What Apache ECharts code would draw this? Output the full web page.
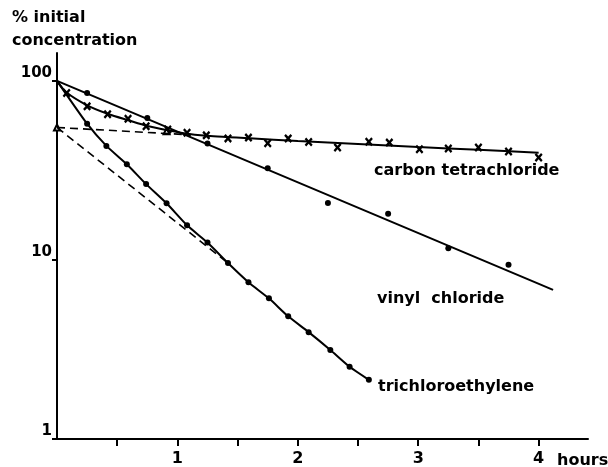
<!DOCTYPE html>
<html>
<head>
<meta charset="utf-8">
<script src="https://cdn.jsdelivr.net/npm/echarts@6/dist/echarts.min.js"></script>
<style>
  html, body { margin: 0; padding: 0; background: #fff; }
  #chart { width: 608px; height: 467px; }
</style>
</head>
<body>
<div id="chart"></div>
<script>
// hours / % initial concentration
const vinylHours = [0.25, 0.75, 1.25, 1.75, 2.25, 2.75, 3.25, 3.75];
const vinylConc = [85.5, 62, 44.6, 32.5, 20.8, 18.1, 11.6, 9.4];
const vinylFit = [[0, 100], [4.12, 6.8]];

const ctcHours = [0.08, 0.25, 0.42, 0.59, 0.74, 0.92, 1.08, 1.24, 1.42, 1.59, 1.75, 1.92,
  2.09, 2.33, 2.59, 2.76, 3.01, 3.25, 3.5, 3.75, 4.0];
const ctcConc = [85.5, 72, 65, 61.4, 55.8, 53.5, 51.3, 49.6, 47.7, 48.2, 44.8, 47.7,
  45.5, 42.4, 45.7, 45.2, 41.5, 41.9, 42.4, 40.3, 37.3];
const ctcFit = [[0, 100], [0.08, 86], [0.25, 73], [0.42, 65.5], [0.6, 60], [0.75, 56],
  [0.92, 53], [1.1, 50.5], [1.3, 49], [1.6, 47.8], [2.0, 46.1], [2.5, 44.4],
  [3.0, 42.7], [3.5, 41.2], [4.0, 39.6]];
const ctcExtrap = [[0, 54.9], [1.05, 50.2]];

const tceHours = [0.25, 0.41, 0.58, 0.74, 0.91, 1.08, 1.25, 1.42, 1.59, 1.76, 1.92, 2.09,
  2.27, 2.43, 2.59];
const tceConc = [57.6, 43.3, 34.2, 26.5, 20.7, 15.6, 12.5, 9.6, 7.5, 6.1, 4.84, 3.95,
  3.14, 2.53, 2.14];
const tceExtrap = [[0, 54.9], [1.42, 9.6]];

const triangles = [[0, 54.9], [0.91, 52.3]];

const xTicks = [0.5, 1, 1.5, 2, 2.5, 3, 3.5, 4];
const xLabels = [1, 2, 3, 4];
const yLabels = [1, 10, 100];

const font = 'DejaVu Sans';
const pairs = (xs, ys) => xs.map((x, i) => [x, ys[i]]);
const xMark = 'path://M0,2L2,0L5,3L8,0L10,2L7,5L10,8L8,10L5,7L2,10L0,8L3,5Z';

const chart = echarts.init(document.getElementById('chart'), null, { renderer: 'canvas' });

const solid = { color: '#000', width: 2 };
const dashed = { color: '#000', width: 1.6, type: [8, 5] };
const textFont = 'bold 16px ' + font;

chart.setOption({
  backgroundColor: '#fff',
  animation: false,
  grid: { left: 57, right: 20, top: 53, bottom: 24 },
  xAxis: {
    type: 'value',
    min: 0,
    max: 4.41,
    axisLine: { lineStyle: { color: '#000', width: 2 } },
    axisTick: { customValues: xTicks, length: 7, lineStyle: { color: '#000', width: 2 } },
    axisLabel: {
      customValues: xLabels, margin: 12, color: '#000',
      fontFamily: font, fontWeight: 'bold', fontSize: 16
    },
    splitLine: { show: false }
  },
  yAxis: {
    type: 'log',
    logBase: 10,
    min: 1,
    max: 143,
    axisLine: { show: true, lineStyle: { color: '#000', width: 2 } },
    axisTick: { show: true, customValues: yLabels, length: 5, lineStyle: { color: '#000', width: 2 } },
    axisLabel: {
      customValues: yLabels, margin: 5, verticalAlign: 'bottom', color: '#000',
      fontFamily: font, fontWeight: 'bold', fontSize: 15
    },
    splitLine: { show: false }
  },
  series: [
    { type: 'line', data: vinylFit, showSymbol: false, lineStyle: solid },
    { type: 'scatter', data: pairs(vinylHours, vinylConc), symbol: 'circle', symbolSize: 6,
      itemStyle: { color: '#000', opacity: 1 } },
    { type: 'line', data: ctcFit, smooth: 0.3, showSymbol: false, lineStyle: solid },
    { type: 'scatter', data: pairs(ctcHours, ctcConc), symbol: xMark, symbolSize: [8, 9],
      itemStyle: { color: '#000', opacity: 1 } },
    { type: 'line', data: ctcExtrap, showSymbol: false, lineStyle: dashed },
    { type: 'line', data: [[0, 100]].concat(pairs(tceHours, tceConc)), smooth: 0.2,
      showSymbol: false, lineStyle: solid },
    { type: 'scatter', data: pairs(tceHours, tceConc), symbol: 'circle', symbolSize: 6,
      itemStyle: { color: '#000', opacity: 1 } },
    { type: 'line', data: tceExtrap, showSymbol: false, lineStyle: dashed },
    { type: 'scatter', data: triangles, symbol: 'emptyTriangle', symbolSize: 6, clip: false,
      itemStyle: { color: '#000', borderColor: '#000', borderWidth: 1.2, opacity: 1 } }
  ],
  graphic: [
    { type: 'text', left: 12, top: 10,
      style: { text: '% initial', font: textFont, fill: '#000' } },
    { type: 'text', left: 12, top: 33,
      style: { text: 'concentration', font: textFont, fill: '#000' } },
    { type: 'text', left: 374, top: 163,
      style: { text: 'carbon tetrachloride', font: textFont, fill: '#000' } },
    { type: 'text', left: 377, top: 291,
      style: { text: 'vinyl  chloride', font: textFont, fill: '#000' } },
    { type: 'text', left: 378, top: 379,
      style: { text: 'trichloroethylene', font: textFont, fill: '#000' } },
    { type: 'text', left: 557, top: 453,
      style: { text: 'hours', font: textFont, fill: '#000' } }
  ]
});
</script>
</body>
</html>
